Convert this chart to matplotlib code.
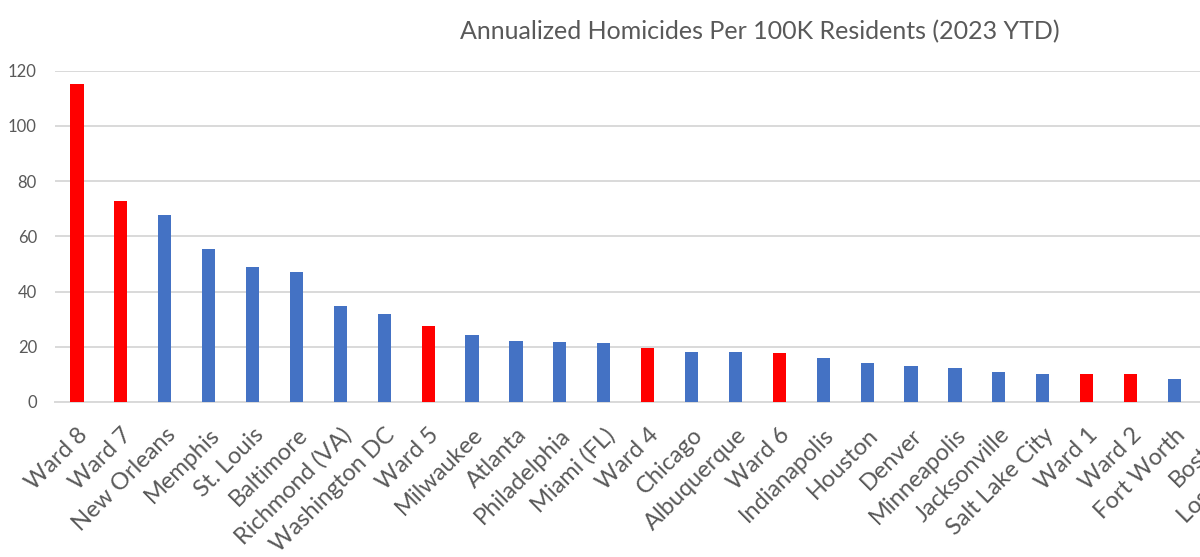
import matplotlib.pyplot as plt

places = ['Ward 8', 'Ward 7', 'New Orleans', 'Memphis', 'St. Louis', 'Baltimore',
          'Richmond (VA)', 'Washington DC', 'Ward 5', 'Milwaukee', 'Atlanta',
          'Philadelphia', 'Miami (FL)', 'Ward 4', 'Chicago', 'Albuquerque', 'Ward 6',
          'Indianapolis', 'Houston', 'Denver', 'Minneapolis', 'Jacksonville',
          'Salt Lake City', 'Ward 1', 'Ward 2', 'Fort Worth', 'Boston', 'Los Angeles']
rates = [115.3, 72.9, 67.8, 55.5, 49.0, 47.1,
         34.6, 31.7, 27.4, 24.2, 22.0,
         21.7, 21.3, 19.5, 18.1, 18.1, 17.7,
         15.9, 14.1, 12.9, 12.2, 10.8,
         10.0, 10.0, 10.0, 8.2, 6.5, 6.0]

plt.rcParams['font.family'] = ['Lato', 'DejaVu Sans']

blue = '#4472C4'
red = '#FF0000'
colors = [red if p.startswith('Ward') else blue for p in places]

W, H = 1200, 557
fig = plt.figure(figsize=(W / 100, H / 100), dpi=100)
step = 43.9
left = 55
ax = fig.add_axes([left / W, (H - 402) / H, len(places) * step / W, (402 - 70.7) / H])

x = range(len(places))
ax.bar(x, rates, width=0.3, color=colors, zorder=3)
ax.set_xlim(-0.5, len(places) - 0.5)
ax.set_ylim(0, 120)
ax.set_yticks(range(0, 121, 20))
ax.grid(axis='y', color='#D9D9D9', linewidth=1.4, zorder=0)
for s in ['top', 'right', 'left']:
    ax.spines[s].set_visible(False)
ax.spines['bottom'].set_color('#D9D9D9')
ax.spines['bottom'].set_linewidth(1.4)
ax.tick_params(axis='both', length=0, colors='#595959')
ax.tick_params(axis='y', labelsize=12, pad=13)
ax.set_xticks(list(x))
ax.set_xticklabels(places, rotation=45, ha='right', rotation_mode='anchor',
                   fontsize=17, color='#595959')
ax.tick_params(axis='x', pad=16)

fig.text(760 / W, 1 - 32 / H, 'Annualized Homicides Per 100K Residents (2023 YTD)',
         ha='center', va='center', fontsize=18, color='#595959')

fig.savefig('out.png', dpi=100)
